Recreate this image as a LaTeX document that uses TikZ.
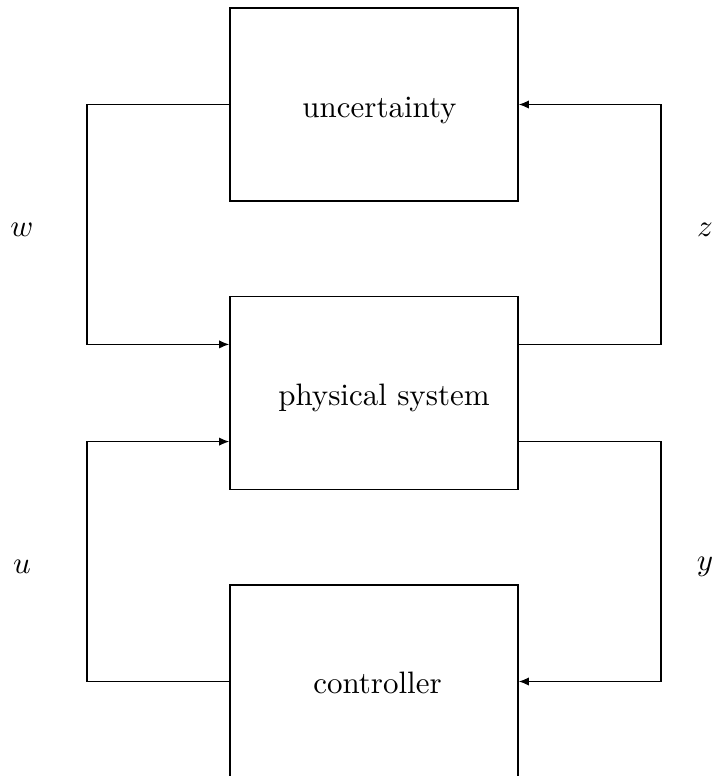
\documentclass[tikz,border=0pt]{standalone}
\usetikzlibrary{arrows.meta,calc}
\begin{document}
\begin{tikzpicture}[x=0.3228pt,y=-0.3228pt,
  block/.style={draw,line width=0.45pt,minimum width=92.97pt,minimum height=62.3pt,inner sep=0pt},
  caption/.style={anchor=base,inner sep=0pt},
  link/.style={line width=0.45pt,-{Latex[length=3.3pt,width=2.7pt]}},
  sig/.style={inner sep=1pt}]
  \clip (0,0) rectangle (714,776);
  % the three blocks
  \node[block] (unc)  at (374,104.5) {};
  \node[block] (phys) at (374,393) {};
  \node[block] (ctrl) at (374,681.5) {};
  \node[caption] (unct)  at (379.5,117) {uncertainty};
  \node[caption] (physt) at (384,405) {physical system};
  \node[caption] (ctrlt) at (377.5,693) {controller};
  % ports on the plant: upper pair for the uncertainty loop, lower pair for the control loop
  \coordinate (pwu) at ($(phys.north west)!0.25!(phys.south west)$);
  \coordinate (pwl) at ($(phys.north west)!0.75!(phys.south west)$);
  \coordinate (peu) at ($(phys.north east)!0.25!(phys.south east)$);
  \coordinate (pel) at ($(phys.north east)!0.75!(phys.south east)$);
  % corner points of the loops
  \coordinate (lw) at (87,0);
  \coordinate (rz) at (661,0);
  \draw[link] (unc.west) -| (lw |- pwu) -- (pwu);
  \draw[link] (peu) -| (rz |- unc.east) -- (unc.east);
  \draw[link] (ctrl.west) -| (lw |- pwl) -- (pwl);
  \draw[link] (pel) -| (rz |- ctrl.east) -- (ctrl.east);
  % signal labels
  \node[sig] (w) at (22,230) {$w$};
  \node[sig] (z) at (705,230) {$z$};
  \node[sig] (u) at (22,567) {$u$};
  \node[sig] (y) at (705,567) {$y$};
\end{tikzpicture}
\end{document}
